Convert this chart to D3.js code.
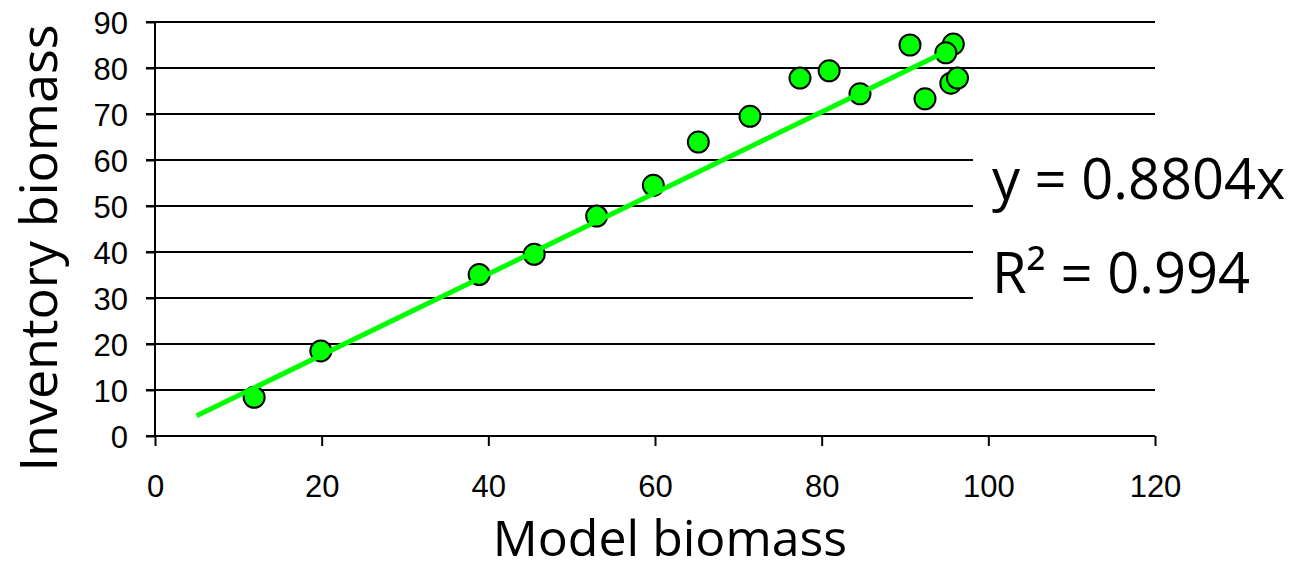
<!DOCTYPE html>
<html>
  <body>
    <script src="https://cdn.jsdelivr.net/npm/d3@7"></script>
    <style>
      body{ margin: 0; background: #fff;}
      .tick text{ font-family: 'Liberation Sans', Arial, sans-serif; font-size: 31px; fill: #000;}
      .title{ font-family: 'Comic Sans MS', 'Open Sans', sans-serif; fill: #000;}
      .dot{ fill: #00ff00; stroke: #000; stroke-width: 2;}
      .trend{ stroke: #00ff00; stroke-width: 5; fill: none;}
    </style>
    <script>
// model biomass (x) vs inventory biomass (y)
var modelX = [11.9, 19.9, 38.9, 45.5, 53.0, 59.8, 65.2, 71.4, 77.4, 80.9, 84.6, 90.6, 92.4, 95.8, 94.9, 95.5, 96.3]
var inventoryY = [8.4, 18.5, 35.1, 39.5, 47.8, 54.5, 63.9, 69.5, 77.8, 79.4, 74.4, 85.0, 73.3, 85.2, 83.3, 76.7, 77.8]
var slope = 0.8804, trendFrom = 5, trendTo = 94.8
var xTicks = [0, 20, 40, 60, 80, 100, 120]
var yTicks = [0, 10, 20, 30, 40, 50, 60, 70, 80, 90]
var eqLines = ['y = 0.8804x', 'R\u00b2 = 0.994']

var width = 1294, height = 572
var svg = d3.select('body').append('svg').attr('width', width).attr('height', height)

var x = d3.scaleLinear().domain([0, 120]).range([155, 1155])
var y = d3.scaleLinear().domain([0, 90]).range([436, 22])

// gridlines, some cut short where the equation sits
svg.selectAll('.grid').data(yTicks.slice(1)).enter().append('line')
  .attr('x1', 146).attr('x2', function(d){ return (d >= 30 && d <= 60) ? 973 : x(120) })
  .attr('y1', function(d){ return y(d) }).attr('y2', function(d){ return y(d) })
  .attr('stroke', '#000').attr('stroke-width', 2)

var yAxis = svg.append('g').attr('transform', 'translate(155,0)')
  .call(d3.axisLeft(y).tickValues(yTicks).tickSize(9).tickPadding(18))
var xAxis = svg.append('g').attr('transform', 'translate(0,436)')
  .call(d3.axisBottom(x).tickValues(xTicks).tickSize(10).tickPadding(29))
svg.selectAll('.domain').attr('stroke', '#000').attr('stroke-width', 2)
svg.selectAll('.tick line').attr('stroke', '#000').attr('stroke-width', 2)
yAxis.select('.domain').attr('d', 'M0,' + y(90) + 'V' + y(0))
xAxis.select('.domain').attr('d', 'M146,0H' + x(120))
yAxis.selectAll('.tick text').attr('dy', '0.36em')

var pts = modelX.map(function(d, i){ return [d, inventoryY[i]] })
svg.selectAll('.dot').data(pts).enter().append('circle')
  .attr('class', 'dot').attr('r', 10.5)
  .attr('cx', function(d){ return x(d[0]) }).attr('cy', function(d){ return y(d[1]) })

svg.append('line').attr('class', 'trend')
  .attr('x1', x(trendFrom)).attr('y1', y(slope * trendFrom))
  .attr('x2', x(trendTo)).attr('y2', y(slope * trendTo))

svg.append('text').attr('class', 'title')
  .attr('transform', 'translate(57,248) rotate(-90)')
  .attr('text-anchor', 'middle').attr('font-size', 52)
  .text('Inventory biomass')
svg.append('text').attr('class', 'title')
  .attr('x', 670).attr('y', 556).attr('text-anchor', 'middle').attr('font-size', 50)
  .text('Model biomass')

svg.selectAll('.eq').data(eqLines).enter().append('text').attr('class', 'title')
  .attr('x', 992).attr('y', function(d, i){ return 199 + i * 94 })
  .attr('font-size', 56)
  .text(function(d){ return d })
    </script>
  </body>
</html>
